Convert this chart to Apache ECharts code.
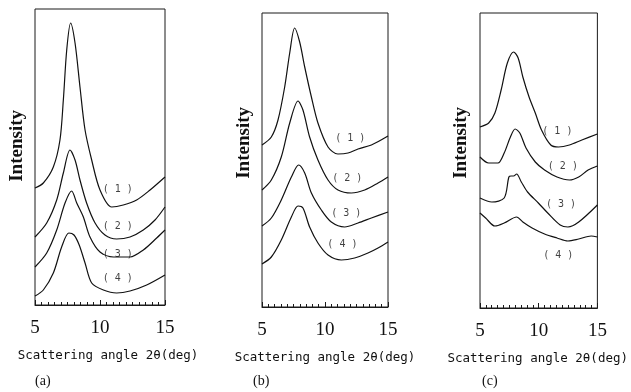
<!DOCTYPE html>
<html>
<head>
<meta charset="utf-8">
<script src="https://cdn.jsdelivr.net/npm/echarts@6/dist/echarts.min.js"></script>
<style>
	html, body { margin: 0; padding: 0; background: #fff; }
	#chart { width: 631px; height: 392px; }
</style>
</head>
<body>
<div id="chart"></div>
<script>
// x ticks and panel names
var xTicks = [5, 10, 15];
var panelNames = ["(a)", "(b)", "(c)"];
var curveNames = ["( 1 )", "( 2 )", "( 3 )", "( 4 )"];

// panel (a): [2theta, intensity]
var a1 = [[5, 117], [5.64, 122], [6.41, 138], [6.92, 165], [7.18, 205], [7.44, 255], [7.74, 282], [8.08, 262], [8.46, 218], [8.85, 175], [9.36, 145], [10, 115], [10.9, 98], [11.79, 100], [12.82, 105], [13.85, 115], [15, 128]];
var a2 = [[5, 68], [5.9, 82], [6.67, 105], [7.18, 132], [7.69, 155], [8.08, 145], [8.46, 125], [8.97, 102], [9.62, 82], [10.38, 70], [11.28, 66], [12.31, 68], [13.33, 75], [14.23, 85], [15, 98]];
var a3 = [[5, 38], [5.9, 52], [6.67, 75], [7.31, 102], [7.82, 114], [8.21, 102], [8.72, 88], [9.23, 68], [10, 53], [11.03, 48], [12.31, 48], [13.33, 55], [14.36, 67], [15, 75]];
var a4 = [[5, 9], [5.64, 15], [6.41, 32], [7.05, 58], [7.6, 72], [8.0, 70], [8.4, 60], [8.85, 42], [9.36, 22], [10.26, 15], [11.28, 12], [12.31, 14], [13.59, 20], [15, 30]];

// panel (b)
var b1 = [[5, 162], [5.74, 170], [6.27, 187], [6.8, 220], [7.2, 254], [7.59, 279], [7.99, 265], [8.39, 240], [8.92, 210], [9.44, 184], [10.24, 160], [11.03, 153], [11.83, 154], [12.62, 158], [13.68, 162], [15, 171]];
var b2 = [[5, 117], [5.74, 127], [6.53, 150], [7.2, 184], [7.86, 206], [8.25, 197], [8.78, 170], [9.44, 147], [10.24, 127], [11.03, 117], [12.09, 114], [13.15, 117], [14.21, 124], [15, 130]];
var b3 = [[5, 81], [5.74, 89], [6.53, 107], [7.33, 130], [7.91, 142], [8.39, 134], [8.92, 114], [9.71, 97], [10.5, 85], [11.56, 80], [12.62, 84], [13.68, 89], [15, 95]];
var b4 = [[5, 43], [5.74, 50], [6.53, 67], [7.33, 90], [7.86, 101], [8.25, 99], [8.78, 80], [9.44, 64], [10.24, 52], [11.3, 47], [12.35, 49], [13.41, 54], [14.21, 59], [15, 65]];

// panel (c)
var c1 = [[5, 181], [5.74, 185], [6.27, 195], [6.8, 218], [7.33, 245], [7.86, 256], [8.25, 250], [8.65, 231], [9.18, 211], [9.71, 195], [10.24, 178], [11.03, 163], [11.69, 161], [12.62, 163], [13.68, 168], [15, 174]];
var c2 = [[5, 151], [5.74, 145], [6.53, 145], [7.06, 155], [7.59, 171], [7.99, 179], [8.39, 175], [8.92, 160], [9.71, 146], [10.5, 138], [11.56, 131], [12.62, 128], [13.41, 131], [14.21, 138], [15, 142]];
var c3 = [[5, 110], [6.01, 106], [7.06, 110], [7.46, 131], [7.65, 132], [7.86, 132], [8.12, 134], [8.52, 126], [9.05, 116], [9.97, 105], [10.77, 95], [11.83, 83], [12.49, 81], [13.41, 86], [15, 103]];
var c4 = [[5, 95], [5.48, 90], [6.27, 82], [7.06, 85], [8.12, 91], [8.65, 86], [9.44, 80], [10.5, 74], [11.56, 70], [12.49, 67], [13.41, 69], [14.47, 72], [15, 71]];

// where the (1)..(4) tags sit, per panel
var tagsA = [[11.36, 116], [11.36, 79], [11.36, 51], [11.36, 27]];
var tagsB = [[12.0, 169], [11.77, 129], [11.69, 94], [11.38, 63]];
var tagsC = [[11.59, 177], [12.06, 142], [11.9, 104], [11.67, 53]];

var panels = [
	{ curves: [a1, a2, a3, a4], tags: tagsA, grid: { left: 35, top: 9, width: 130, height: 296 }, ymax: 296, nameShift: 16, labX: 44, intX: 18, intY: 146 },
	{ curves: [b1, b2, b3, b4], tags: tagsB, grid: { left: 262, top: 13, width: 126, height: 294 }, ymax: 294, nameShift: 0, labX: 262, intX: 245, intY: 143 },
	{ curves: [c1, c2, c3, c4], tags: tagsC, grid: { left: 480, top: 13, width: 126, height: 295 }, ymax: 295, nameShift: -2, labX: 491, intX: 462, intY: 143 }
];

var myChart = echarts.init(document.getElementById("chart"), null, { renderer: "canvas" });
var option = { animation: false, backgroundColor: "#fff", grid: [], xAxis: [], yAxis: [], series: [], graphic: [] };

panels.forEach(function (p, i) {
	option.grid.push({
		left: p.grid.left, top: p.grid.top, width: p.grid.width, height: p.grid.height,
		show: true, borderColor: "#1a1a1a", borderWidth: 1, backgroundColor: "transparent"
	});
	option.xAxis.push({
		gridIndex: i,
		type: "value",
		min: xTicks[0],
		max: xTicks[xTicks.length - 1],
		interval: 5,
		name: "Scattering angle 2\u03b8(deg)",
		nameLocation: "middle",
		nameGap: 44,
		nameTextStyle: {
			fontFamily: "DejaVu Sans Mono",
			fontSize: 12.5,
			color: "#111",
			padding: [0, 0, 0, p.nameShift]
		},
		axisLine: { show: true, lineStyle: { color: "#1a1a1a", width: 1 } },
		axisTick: { show: true, inside: true, length: 5, lineStyle: { color: "#1a1a1a" } },
		minorTick: { show: true, splitNumber: 10, length: 3, lineStyle: { color: "#1a1a1a" } },
		splitLine: { show: false },
		axisLabel: {
			margin: 14,
			fontFamily: "Liberation Serif",
			fontSize: 19,
			color: "#111"
		}
	});
	option.yAxis.push({
		gridIndex: i,
		type: "value",
		min: 0,
		max: p.ymax,
		show: false
	});
	p.curves.forEach(function (d) {
		option.series.push({
			type: "line",
			xAxisIndex: i,
			yAxisIndex: i,
			data: d,
			showSymbol: false,
			smooth: 0.3,
			lineStyle: { color: "#111", width: 1.2 }
		});
	});
	option.series.push({
		type: "scatter",
		xAxisIndex: i,
		yAxisIndex: i,
		symbolSize: 0,
		data: p.tags.map(function (t, k) { return { value: t, name: curveNames[k] }; }),
		label: {
			show: true,
			position: "inside",
			formatter: "{b}",
			fontFamily: "DejaVu Sans Mono",
			fontSize: 10,
			color: "#111"
		}
	});
	option.graphic.push({
		type: "text",
		left: p.intX - 10,
		top: p.intY - 36,
		rotation: Math.PI / 2,
		originX: 0,
		originY: 0,
		style: {
			text: "Intensity",
			font: "bold 19px 'Liberation Serif'",
			fill: "#111",
			x: 0, y: 0
		}
	});
	option.graphic.push({
		type: "text",
		left: p.labX - 9,
		top: 374,
		style: { text: panelNames[i], font: "14px 'Liberation Serif'", fill: "#111" }
	});
});

myChart.setOption(option);
</script>
</body>
</html>
